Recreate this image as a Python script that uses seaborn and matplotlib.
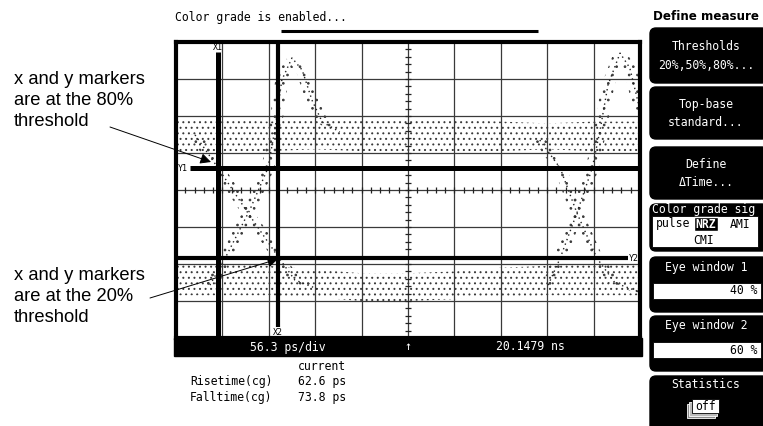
import matplotlib
matplotlib.use("Agg")
import matplotlib.pyplot as plt
import matplotlib.patches as mpatches
import numpy as np
import pandas as pd
import seaborn as sns

# eye diagram, in graticule divisions
# x: 0..10 div (56.3 ps/div), y: 0..8 div
band_t = [0, 1, 2, 3, 4, 5, 6, 7, 8, 9, 10]
top_hi = [5.90, 5.90, 5.85, 5.90, 5.95, 5.90, 5.90, 5.85, 5.80, 5.85, 5.85]
top_lo = [5.05, 5.00, 5.05, 5.10, 5.05, 5.00, 5.05, 5.05, 5.10, 5.05, 5.00]
base_hi = [2.00, 2.00, 1.95, 1.85, 1.75, 1.75, 1.80, 1.90, 1.95, 2.00, 2.00]
base_lo = [1.15, 1.15, 1.15, 1.10, 1.00, 1.00, 1.05, 1.10, 1.15, 1.15, 1.15]

rise1_t = [0.73, 1.06, 1.59, 1.98, 2.13, 2.28, 2.50, 2.72, 2.93, 3.15, 3.53]
rise1_v = [1.43, 2.16, 3.46, 4.59, 5.62, 6.97, 7.57, 7.24, 6.43, 5.84, 5.57]
fall1_t = [0.41, 0.91, 1.55, 2.22, 2.56, 3.10]
fall1_v = [5.49, 4.59, 3.38, 2.16, 1.57, 1.30]
rise2_t = [8.02, 8.28, 8.64, 8.97, 9.14, 9.31, 9.57, 9.78, 10.0]
rise2_v = [1.43, 2.16, 3.38, 4.59, 5.62, 6.84, 7.70, 7.30, 6.16]
fall2_t = [7.84, 8.28, 8.64, 9.07, 9.46, 10.0]
fall2_v = [5.35, 4.59, 3.38, 2.16, 1.49, 1.24]

# markers
x1_pos, x2_pos = 0.91, 2.20
y1_pos, y2_pos = 4.59, 2.16

# texts
menu_items = ["Thresholds\n20%,50%,80%...", "Top-base\nstandard...", "Define\n\u0394Time..."]
signal_types = ["pulse", "NRZ", "AMI", "CMI"]
eye_windows = ["Eye window 1", "Eye window 2"]
eye_values = ["40 %", "60 %"]
meas_names = ["Risetime(cg)", "Falltime(cg)"]
meas_values = ["62.6 ps", "73.8 ps"]
timebase = "56.3 ps/div"
delay = "20.1479 ns"

sns.set_theme(style="white")
plt.rcParams["font.family"] = ["DejaVu Sans Mono"]
plt.rcParams["text.color"] = "black"
plt.rcParams["hatch.linewidth"] = 0.7

W, H = 763, 426
fig = plt.figure(figsize=(W / 100, H / 100), dpi=100)

# main screen
ax = fig.add_axes([176 / W, 1 - 338 / H, (640 - 176) / W, (338 - 42) / H])
ax.set_xlim(0, 10)
ax.set_ylim(0, 8)
ax.set_xticks(range(11))
ax.set_yticks(range(9))
ax.grid(True, color="#3a3a3a", lw=0.9)
ax.tick_params(length=0, labelbottom=False, labelleft=False)
for s in ax.spines.values():
    s.set_color("black")
    s.set_linewidth(3)

# center ticks
ax.vlines(np.arange(0, 10.01, 0.2), 3.92, 4.08, color="#222", lw=0.9)
ax.hlines(np.arange(0, 8.01, 0.2), 4.935, 5.065, color="#222", lw=0.9)

# dotted bands of the eye
dot = "#3a3a3a"
ax.fill_between(band_t, top_lo, top_hi, facecolor="none", edgecolor=dot, hatch="...", linewidth=0)
ax.fill_between(band_t, base_lo, base_hi, facecolor="none", edgecolor=dot, hatch="...", linewidth=0)

edges = {"rise1": (rise1_t, rise1_v), "fall1": (fall1_t, fall1_v),
         "rise2": (rise2_t, rise2_v), "fall2": (fall2_t, fall2_v)}
for name, (t, v) in edges.items():
    t = np.array(t)
    v = np.array(v)
    d = 0.14
    poly_x = np.concatenate([t - d, (t + d)[::-1]])
    poly_y = np.concatenate([v, v[::-1]])
    ax.fill(poly_x, poly_y, facecolor="none", edgecolor=dot, hatch="..", linewidth=0)

traces = pd.concat([pd.DataFrame({"t": t, "v": v, "edge": k}) for k, (t, v) in edges.items()])
sns.lineplot(data=traces, x="t", y="v", units="edge", estimator=None, sort=False,
             color="#222", lw=1.0, linestyle=(0, (1, 2.5)), ax=ax)
ax.set_xlabel("")
ax.set_ylabel("")

# marker lines
ax.plot([x1_pos, x1_pos], [0, 7.73], color="black", lw=3.6, solid_capstyle="butt")
ax.plot([x2_pos, x2_pos], [0.30, 8], color="black", lw=3.0, solid_capstyle="butt")
ax.plot([0.30, 10], [y1_pos, y1_pos], color="black", lw=3.6, solid_capstyle="butt")
ax.plot([0, 9.74], [y2_pos, y2_pos], color="black", lw=3.0, solid_capstyle="butt")
mk = dict(fontsize=6, color="black", ha="center", va="center")
ax.text(x1_pos, 7.86, "X1", **mk)
ax.text(x2_pos, 0.15, "X2", **mk)
ax.text(0.15, y1_pos, "Y1", **mk)
ax.text(9.87, y2_pos, "Y2", **mk)

# overlay in pixel coordinates
ov = fig.add_axes([0, 0, 1, 1])
ov.set_xlim(0, W)
ov.set_ylim(H, 0)
ov.axis("off")

mono = dict(fontsize=8.3, family="DejaVu Sans Mono")
ov.text(175, 18, "Color grade is enabled...", ha="left", va="center", **mono)
ov.plot([281, 538], [31, 31], color="black", lw=2.2, solid_capstyle="butt")

# time base strip
ov.add_patch(mpatches.Rectangle((174, 338), 468, 18, color="black"))
ov.text(288, 347, timebase, color="white", ha="center", va="center", **mono)
ov.text(408, 347, "\u2191", color="white", ha="center", va="center", **mono)
ov.text(530, 347, delay, color="white", ha="center", va="center", **mono)

ov.text(298, 366, "current", ha="left", va="center", **mono)
for i, (n, v) in enumerate(zip(meas_names, meas_values)):
    ov.text(190, 382 + 15 * i, n, ha="left", va="center", **mono)
    ov.text(298, 382 + 15 * i, v, ha="left", va="center", **mono)

# callouts
sans = dict(fontsize=13.2, family="Liberation Sans", ha="left", va="baseline", color="black")
for i, line in enumerate(["x and y markers", "are at the 80%", "threshold"]):
    ov.text(14, 84 + 21 * i, line, **sans)
for i, line in enumerate(["x and y markers", "are at the 20%", "threshold"]):
    ov.text(14, 280 + 21 * i, line, **sans)
arrow = dict(arrowstyle="-|>", color="black", lw=0.7, mutation_scale=16, shrinkA=0, shrinkB=0)
ov.annotate("", xy=(211, 162), xytext=(110, 127), arrowprops=arrow)
ov.annotate("", xy=(278, 259), xytext=(150, 298), arrowprops=arrow)

# softkey menu
ov.text(706, 17, "Define measure", ha="center", va="center", fontsize=8.6,
        family="DejaVu Sans", fontweight="bold")

def key(y, h):
    ov.add_patch(mpatches.FancyBboxPatch((650, y), 118, h, boxstyle="round,pad=0,rounding_size=6",
                                         facecolor="black", edgecolor="black"))

key_rows = [(28, 55), (87, 52), (147, 52)]
for (y, h), label in zip(key_rows, menu_items):
    key(y, h)
    top, bottom = label.split("\n")
    ov.text(706, y + h * 0.34, top, color="white", ha="center", va="center", **mono)
    ov.text(706, y + h * 0.68, bottom, color="white", ha="center", va="center", **mono)

# signal type selector
key(204, 47)
ov.text(652, 210, "Color grade sig", color="white", ha="left", va="center", **mono)
ov.add_patch(mpatches.Rectangle((652, 216), 106, 31, facecolor="white", edgecolor="black", lw=0.6))
ov.add_patch(mpatches.Rectangle((694, 217), 24, 14, facecolor="black"))
sig_pos = [(673, 224), (706, 224), (740, 224), (704, 240)]
for s, (x, y) in zip(signal_types, sig_pos):
    ov.text(x, y, s, color="white" if s == "NRZ" else "black", ha="center", va="center",
            fontweight="bold" if s == "NRZ" else "normal", **mono)

# eye windows
for i, (name, val) in enumerate(zip(eye_windows, eye_values)):
    y = 257 + 59 * i
    key(y, 55)
    ov.text(706, y + 10, name, color="white", ha="center", va="center", **mono)
    ov.add_patch(mpatches.Rectangle((653, y + 26), 108, 16, facecolor="white", edgecolor="black", lw=0.6))
    ov.text(757, y + 34, val, ha="right", va="center", **mono)

# statistics
key(376, 60)
ov.text(706, 385, "Statistics", color="white", ha="center", va="center", **mono)
ov.add_patch(mpatches.Rectangle((687, 404), 28, 14, facecolor="#888", edgecolor="white", lw=0.6))
ov.add_patch(mpatches.Rectangle((689, 402), 28, 14, facecolor="#bbb", edgecolor="white", lw=0.6))
ov.add_patch(mpatches.Rectangle((692, 399), 27, 14, facecolor="white", edgecolor="black", lw=0.6))
ov.text(705.5, 406, "off", ha="center", va="center", **mono)

fig.savefig("out.png", dpi=100)
